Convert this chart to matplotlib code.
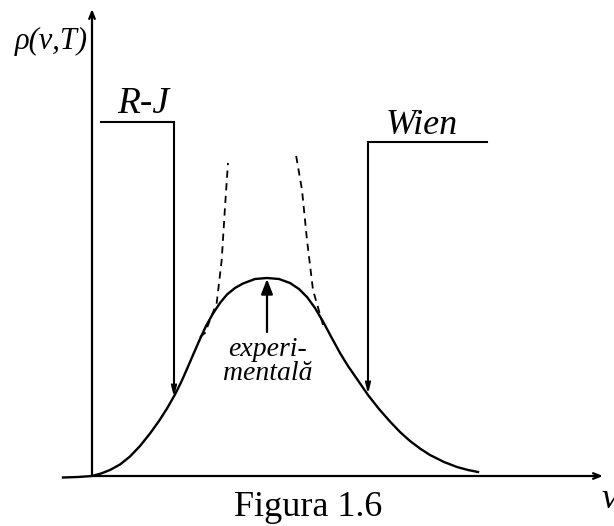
import matplotlib
matplotlib.use('Agg')
import matplotlib.pyplot as plt

plt.rcParams['font.family'] = ['Liberation Serif', 'DejaVu Serif']

nu_exp = [-29, -14, 0, 9, 18, 28, 38, 48, 58, 67, 75, 83, 89, 95, 101, 108,
          114, 121, 128, 135, 143, 151, 163, 175, 187, 198, 207, 215, 223,
          231, 239, 248, 256, 265, 276, 287, 298, 308, 318, 328, 338, 352,
          365, 376, 386]
rho_exp = [-1.5, -1, 0, 2.5, 6, 11.5, 19.5, 30, 42.5, 55, 67.5, 81.5, 93.5, 107, 121, 137,
           150, 162.5, 173, 181.5, 188, 192.5, 197, 198, 197, 193, 187, 179, 168,
           154.5, 139.5, 123, 110, 97, 81, 67, 54.5, 44, 35, 27.5, 21, 14,
           9, 6, 4]

# Rayleigh-Jeans (dashed, left branch)
nu_rj = [108, 113, 118, 124.7, 129.7, 133, 136]
rho_rj = [139, 143, 156, 173, 216, 269, 313]

# Wien (dashed, right branch)
nu_wien = [231, 221, 215, 210, 204]
rho_wien = [151, 186, 236, 286, 321]

fig = plt.figure(figsize=(6.14, 5.26), dpi=100)
ax = fig.add_axes([0, 0, 1, 1])
ax.set_xlim(-92, 522)
ax.set_ylim(-50, 476)
ax.axis('off')

# axes arrows
ax.annotate('', xy=(0, 467), xytext=(0, 0),
            arrowprops=dict(arrowstyle='->,head_length=0.5,head_width=0.2', lw=1.6, color='black',
                            shrinkA=0, shrinkB=0))
ax.annotate('', xy=(511, 0), xytext=(0, 0),
            arrowprops=dict(arrowstyle='->,head_length=0.5,head_width=0.2', lw=1.6, color='black',
                            shrinkA=0, shrinkB=0))

ax.plot(nu_exp, rho_exp, color='black', lw=1.7, solid_joinstyle='round')
ax.plot(nu_rj, rho_rj, color='black', lw=1.3, linestyle=(0, (4, 3)))
ax.plot(nu_wien, rho_wien, color='black', lw=1.3, linestyle=(0, (4, 3)))

# R-J pointer
ax.plot([9, 82], [354, 354], color='black', lw=1.5)
ax.annotate('', xy=(82, 79), xytext=(82, 354),
            arrowprops=dict(arrowstyle='->,head_length=0.6,head_width=0.15', lw=1.5, color='black',
                            shrinkA=0, shrinkB=0))
# Wien pointer
ax.plot([276, 395], [334, 334], color='black', lw=1.5)
ax.annotate('', xy=(276, 82), xytext=(276, 334),
            arrowprops=dict(arrowstyle='->,head_length=0.6,head_width=0.15', lw=1.5, color='black',
                            shrinkA=0, shrinkB=0))
# experimental pointer
ax.annotate('', xy=(175, 197), xytext=(175, 144),
            arrowprops=dict(arrowstyle='-|>,head_length=0.9,head_width=0.35', lw=1.6, color='black',
                            shrinkA=0, shrinkB=0))

ax.text(-41, 435, 'ρ(ν,T)', fontsize=22, style='italic', ha='center', va='center')
ax.text(51, 372, 'R-J', fontsize=27, style='italic', ha='center', va='center')
ax.text(330, 350, 'Wien', fontsize=26, style='italic', ha='center', va='center')
ax.text(176, 127, 'experi-', fontsize=20, style='italic', ha='center', va='center')
ax.text(176, 102, 'mentală', fontsize=20, style='italic', ha='center', va='center')
ax.text(216, -32, 'Figura 1.6', fontsize=26, ha='center', va='center')
ax.text(510, -23, 'ν', fontsize=26, style='italic', ha='left', va='center')

fig.savefig('out.png', dpi=100)
